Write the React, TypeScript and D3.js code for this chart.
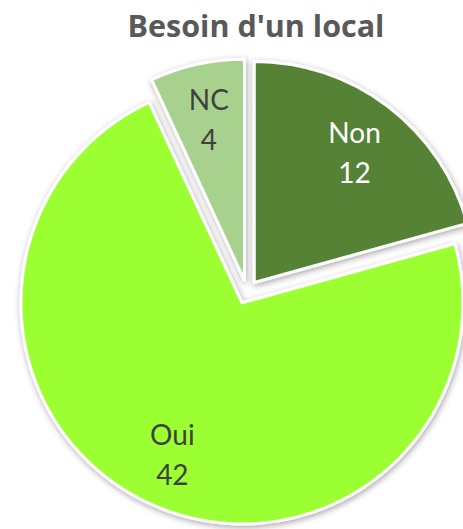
import React, { useEffect, useRef } from 'react';
import * as d3 from 'd3';

const categories = ['Non', 'Oui', 'NC'];
const values = [12, 42, 4];
const colors = ['#548235', '#9bff33', '#a9d18e'];
const labelColors = ['#ffffff', '#404040', '#404040'];
const title = "Besoin d'un local";

const App = () => {
  const svgRef = useRef<SVGSVGElement>(null);

  useEffect(() => {
    const width = 463, height = 529;
    const cx = 247, cy = 292;
    const radius = 221;
    const explode = 12;

    const svg = d3.select(svgRef.current);
    svg.selectAll('*').remove();
    svg.attr('width', width).attr('height', height);

    const defs = svg.append('defs');
    defs.append('filter')
      .attr('id', 'shadow')
      .attr('x', '-20%').attr('y', '-20%')
      .attr('width', '140%').attr('height', '140%')
      .append('feDropShadow')
      .attr('dx', 1).attr('dy', 2)
      .attr('stdDeviation', 3)
      .attr('flood-color', '#000')
      .attr('flood-opacity', 0.35);

    svg.append('text')
      .attr('x', 256)
      .attr('y', 37)
      .attr('text-anchor', 'middle')
      .attr('font-family', '"Open Sans", sans-serif')
      .attr('font-weight', 'bold')
      .attr('font-size', 30.5)
      .attr('fill', '#595959')
      .text(title);

    const data = categories.map((c, i) => ({ name: c, value: values[i], i }));
    const pie = d3.pie<any>().sort(null).value(d => d.value);
    const arcs = pie(data);
    const arc = d3.arc<any>().innerRadius(0).outerRadius(radius);
    const labelArc = d3.arc<any>().innerRadius(radius * 0.75).outerRadius(radius * 0.75);

    const g = svg.append('g').attr('transform', `translate(${cx},${cy})`);

    const slices = g.selectAll('g.slice')
      .data(arcs)
      .join('g')
      .attr('class', 'slice')
      .attr('transform', d => {
        const mid = (d.startAngle + d.endAngle) / 2;
        return `translate(${explode * Math.sin(mid)},${-explode * Math.cos(mid)})`;
      });

    slices.append('path')
      .attr('d', arc)
      .attr('fill', d => colors[d.data.i])
      .attr('stroke', '#fff')
      .attr('stroke-width', 3)
      .attr('stroke-linejoin', 'round')
      .attr('filter', 'url(#shadow)');

    slices.each(function (d) {
      const [lx, ly] = labelArc.centroid(d);
      const t = d3.select(this).append('text')
        .attr('text-anchor', 'middle')
        .attr('font-family', 'Lato, sans-serif')
        .attr('font-size', 28)
        .attr('fill', labelColors[d.data.i]);
      t.append('tspan').attr('x', lx).attr('y', ly - 8).text(d.data.name);
      t.append('tspan').attr('x', lx).attr('y', ly + 32).text(String(d.data.value));
    });
  }, []);

  return (
    <div style={{ position: 'absolute', left: 0, top: 0 }}>
      <svg ref={svgRef} style={{ display: 'block' }}></svg>
    </div>
  );
};

export default App;
